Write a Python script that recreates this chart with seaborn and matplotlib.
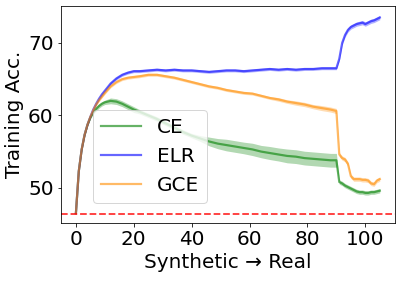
import matplotlib
matplotlib.use("Agg")
import matplotlib.pyplot as plt
import seaborn as sns
import numpy as np
import pandas as pd

x = [0, 1, 2, 3, 4, 5, 6, 7, 8, 9, 10, 12, 14, 16, 18, 20, 22, 25, 28, 31, 34, 37, 40,
     43, 46, 49, 52, 55, 58, 61, 64, 67, 70, 73, 76, 79, 82, 85, 88, 90,
     91, 92, 93, 94, 95, 96, 97, 98, 99, 100, 101, 102, 103, 104, 105]

ce = [46.5, 52.3, 55.3, 57.3, 58.7, 59.7, 60.4, 60.9, 61.3, 61.6, 61.8, 62.0, 61.9, 61.6, 61.2, 60.8, 60.5, 60.0, 59.5, 58.9, 58.3, 57.7, 57.2,
      56.8, 56.4, 56.1, 55.9, 55.7, 55.5, 55.3, 55.0, 54.8, 54.6, 54.4, 54.3, 54.1, 54.0, 53.9, 53.8, 53.8,
      50.8, 50.6, 50.3, 50.1, 49.9, 49.7, 49.5, 49.4, 49.4, 49.3, 49.3, 49.4, 49.4, 49.5, 49.6]
ce_sd = [0.0, 0.2, 0.2, 0.2, 0.2, 0.2, 0.2, 0.3, 0.3, 0.3, 0.3, 0.4, 0.4, 0.4, 0.4, 0.4, 0.3, 0.3, 0.3, 0.3, 0.3, 0.3, 0.3,
         0.4, 0.6, 0.7, 0.8, 0.8, 0.8, 0.85, 0.85, 0.9, 0.9, 0.95, 0.95, 0.95, 0.95, 0.95, 0.95, 0.95,
         0.3, 0.3, 0.3, 0.3, 0.3, 0.3, 0.3, 0.3, 0.3, 0.3, 0.3, 0.3, 0.3, 0.3, 0.3]

elr = [46.5, 52.3, 55.3, 57.3, 58.7, 59.8, 60.8, 61.6, 62.3, 62.9, 63.4, 64.4, 65.1, 65.6, 65.9, 66.1, 66.1, 66.2, 66.3, 66.2, 66.3, 66.2, 66.2,
       66.1, 66.0, 66.1, 66.2, 66.2, 66.1, 66.2, 66.3, 66.4, 66.3, 66.4, 66.3, 66.4, 66.4, 66.5, 66.5, 66.5,
       67.8, 70.0, 71.1, 71.8, 72.2, 72.4, 72.6, 72.7, 72.8, 72.6, 72.8, 73.0, 73.1, 73.3, 73.5]
elr_sd = [0.0, 0.2, 0.2, 0.2, 0.2, 0.2, 0.2, 0.2, 0.2, 0.2, 0.2, 0.2, 0.2, 0.2, 0.2, 0.2, 0.2, 0.2, 0.2, 0.2, 0.2, 0.2, 0.2,
          0.2, 0.2, 0.2, 0.2, 0.2, 0.2, 0.2, 0.2, 0.2, 0.2, 0.2, 0.2, 0.2, 0.2, 0.2, 0.2, 0.2,
          0.3, 0.3, 0.3, 0.3, 0.3, 0.3, 0.3, 0.3, 0.3, 0.3, 0.3, 0.3, 0.3, 0.3, 0.3]

gce = [46.5, 52.3, 55.3, 57.3, 58.7, 59.8, 60.7, 61.5, 62.1, 62.6, 63.1, 64.0, 64.6, 65.0, 65.2, 65.3, 65.4, 65.6, 65.6, 65.4, 65.2, 64.9, 64.6,
       64.3, 64.0, 63.8, 63.5, 63.3, 63.1, 63.0, 62.7, 62.4, 62.2, 61.9, 61.7, 61.5, 61.2, 61.0, 60.8, 60.6,
       54.6, 54.1, 53.9, 53.3, 51.6, 51.2, 51.2, 51.2, 51.1, 51.1, 51.0, 50.6, 50.5, 51.0, 51.2]
gce_sd = [0.0, 0.2, 0.2, 0.2, 0.2, 0.2, 0.2, 0.2, 0.2, 0.2, 0.2, 0.2, 0.2, 0.2, 0.2, 0.2, 0.2, 0.2, 0.2, 0.2, 0.2, 0.2, 0.2,
          0.2, 0.2, 0.2, 0.2, 0.2, 0.2, 0.2, 0.2, 0.2, 0.25, 0.25, 0.3, 0.3, 0.3, 0.35, 0.35, 0.35,
          0.3, 0.3, 0.3, 0.3, 0.3, 0.3, 0.3, 0.3, 0.3, 0.3, 0.3, 0.3, 0.3, 0.3, 0.3]

baseline = 46.4

series = [("CE", ce, ce_sd, "green"), ("ELR", elr, elr_sd, "blue"), ("GCE", gce, gce_sd, "darkorange")]

FS = 20
plt.rcParams["font.family"] = ["DejaVu Sans"]
plt.rcParams["font.size"] = FS

fig = plt.figure(figsize=(401 / 72, 284 / 72), dpi=72)
ax = fig.add_axes([0.1514, 0.2137, 0.985 - 0.1514, 0.979 - 0.2137])

xa = np.array(x, dtype=float)
for name, m, sd, col in series:
    m = np.array(m)
    sd = np.array(sd)
    sns.lineplot(x=xa, y=m, ax=ax, color=col, alpha=0.6, lw=2.2, label=name)
    ax.fill_between(xa, m - sd, m + sd, color=col, alpha=0.3, lw=0)

ax.axhline(baseline, color="red", ls="--", alpha=0.8, lw=1.8)

ax.set_xlim(-5.25, 110.25)
ax.set_ylim(45.1, 75.1)
ax.set_xticks([0, 20, 40, 60, 80, 100])
ax.set_yticks([50, 60, 70])
ax.set_xlabel("Synthetic → Real", fontsize=FS)
ax.set_ylabel("Training Acc.", fontsize=FS)
ax.tick_params(labelsize=FS)

ax.legend(loc="lower left", bbox_to_anchor=(0.0975, 0.092), borderaxespad=0, fontsize=FS)

fig.savefig("out.png", dpi=72)
